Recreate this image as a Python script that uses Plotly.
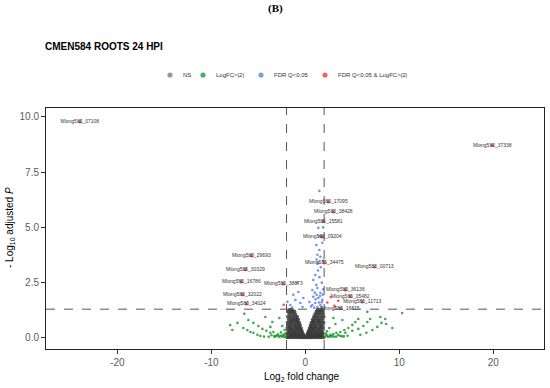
import math
import plotly.graph_objects as go

# ---------------- data ----------------
fc_cut = 2.0
p_cut = 0.05

ns_x = [-1.95,-1.72,-1.48,-1.27,-1.05,-0.83,-0.61,-0.42,-0.24,-0.08,0.09,0.26,0.44,0.63,0.85,1.04,1.26,1.49,1.71,1.93,
        -1.88,-1.6,-1.36,-1.14,-0.92,-0.7,-0.5,-0.31,-0.17,0.18,0.33,0.52,0.74,0.95,1.17,1.38,1.62,1.84,
        -1.96,-1.76,-1.53,-1.3,-1.08,-0.86,-0.64,-0.45,-0.27,0.25,0.41,0.6,0.8,1.02,1.24,1.45,1.68,1.9,
        -1.83,-1.62,-1.4,-1.18,-0.97,-0.76,-0.55,-0.36,0.34,0.5,0.69,0.9,1.11,1.33,1.57,1.8,
        -1.92,-1.7,-1.47,-1.25,-1.03,-0.82,-0.62,-0.45,0.44,0.6,0.79,1.0,1.22,1.44,1.66,1.89,
        -1.8,-1.57,-1.35,-1.13,-0.92,-0.72,-0.55,0.55,0.72,0.91,1.12,1.35,1.58,1.82,
        -1.9,-1.66,-1.43,-1.21,-1.0,-0.8,-0.64,0.65,0.83,1.03,1.25,1.48,1.72,1.95,
        -1.78,-1.55,-1.32,-1.1,-0.9,-0.75,0.77,0.95,1.16,1.39,1.62,1.86,
        -1.87,-1.63,-1.4,-1.18,-0.98,-0.86,0.9,1.08,1.29,1.52,1.76,1.97,
        -1.74,-1.5,-1.27,-1.06,1.02,1.21,1.43,1.67,1.9,
        -1.83,-1.58,-1.35,-1.15,1.18,1.37,1.6,1.84,
        -1.65,-1.42,1.3,1.55,1.78,
        -1.6,-1.15,-0.72,-0.38,-0.12,0.13,0.38,0.7,1.12,1.55,
        -1.5,-1.0,-0.55,-0.2,0.22,0.58,1.05,1.52,
        -1.7,-1.2,-0.68,-0.35,0.3,0.67,1.2,1.72,
        -1.45,-0.9,-0.5,0.48,0.88,1.42,
        -1.65,-1.05,-0.68,0.62,1.05,1.65,
        -1.45,-0.9,0.85,1.45]
ns_y = ([0.02]*20 + [0.1]*18 + [0.2]*18 + [0.32]*16 + [0.45]*16 + [0.58]*14 + [0.7]*14 + [0.83]*12
        + [0.96]*12 + [1.08]*9 + [1.2]*8 + [1.28]*5
        + [0.06]*10 + [0.15]*8 + [0.26]*8 + [0.38]*6 + [0.52]*6 + [0.76]*4)

fc_x = [-7.77,-7.23,-6.6,-6.17,-5.85,-5.53,-5.1,-4.79,-6.06,-5.53,-5.0,-4.57,-4.15,-3.72,-3.51,-3.72,-3.4,-2.98,-2.66,-2.34,
        -2.2,-2.45,-2.77,-4.26,-6.5,-2.1,-2.3,-2.5,-2.8,-3.1,-3.3,-2.15,-2.6,-4.4,-3.9,-8.0,
        2.34,2.66,2.98,3.3,3.72,4.15,4.57,5.0,5.32,5.64,3.5,4.26,5.0,5.64,6.17,6.6,6.9,5.85,6.5,7.13,
        7.66,8.1,8.5,2.98,3.2,2.55,3.94,6.6,8.6,10.3,9.26,7.98,2.1,2.2,2.45,2.8,3.1,3.9,2.3,2.7,
        -2.25,-2.55,-2.9,-3.25,-3.6,2.25,2.6,2.9,3.3,3.7,4.1,4.5]
fc_y = [0.36,0.68,0.45,0.36,0.27,0.23,0.14,0.09,0.81,0.68,0.54,0.41,0.32,0.23,0.72,0.5,0.27,0.14,0.09,0.14,
        0.36,0.54,0.9,0.95,1.09,0.05,0.04,0.06,0.05,0.08,0.05,0.2,0.25,0.06,0.05,0.58,
        0.09,0.14,0.18,0.23,0.27,0.36,0.45,0.59,0.72,0.86,0.14,0.23,0.32,0.41,0.54,0.72,0.86,0.14,0.23,0.36,
        0.5,0.68,0.86,0.9,0.63,0.45,0.81,1.18,0.63,1.13,0.45,0.95,0.05,0.2,0.04,0.06,0.05,0.07,0.3,0.1,
        0.12,0.1,0.15,0.1,0.12,0.12,0.08,0.1,0.06,0.1,0.07,0.1]

fdr_x = [1.28,1.38,1.6,1.49,1.81,1.7,1.06,0.85,1.17,0.74,1.28,1.6,0.85,1.38,1.81,1.06,0.74,1.6,0.43,-1.28,
         -1.06,-0.53,-1.6,-0.21,-0.74,-0.85,-1.91,1.49,1.38,1.17,1.5,1.75,1.9,1.2,1.45,1.7,1.0,1.3,0.95,1.55,
         1.85,1.35,1.65,1.9,1.5,1.9,1.2,-0.3,-1.4,1.75,1.1,0.6]
fdr_y = [3.76,3.39,3.67,3.98,4.3,4.57,2.85,2.62,2.4,2.17,2.26,2.04,1.86,1.81,1.72,1.58,1.49,1.49,1.63,1.95,
         1.72,1.58,1.49,1.81,2.08,2.49,1.63,6.65,4.98,4.2,2.75,2.5,2.2,1.95,1.6,1.4,2.05,1.4,1.37,1.9,
         1.95,3.05,3.2,3.5,4.6,5.0,3.55,1.4,1.38,1.62,1.75,1.42]

both_x = [2.34,2.7,3.1,3.5,-2.3]
both_y = [1.6,1.85,1.45,1.68,1.5]

gene_names = ["Mlong585_07108","Mlong585_37338","Mlong585_17095","Mlong585_38428","Mlong585_15581",
              "Mlong585_09204","Mlong585_34475","Mlong585_00713","Mlong585_29693","Mlong585_30329",
              "Mlong585_16786","Mlong585_38873","Mlong585_36136","Mlong585_05482","Mlong585_11713",
              "Mlong585_32022","Mlong585_34024","Mlong585_16815"]
gene_x = [-24.0,19.9,2.45,2.98,1.91,1.81,2.02,7.34,-5.74,-6.38,-6.81,-2.34,4.26,4.79,6.06,-6.7,-6.28,3.72]
gene_y = [9.77,8.69,6.15,5.7,5.25,4.57,3.39,3.21,3.71,3.08,2.53,2.44,2.17,1.86,1.63,1.95,1.54,1.33]

legend_labels = ["NS", "LogFC>|2|", "FDR Q<0.05", "FDR Q<0.05 & LogFC>|2|"]
colors = ["#3A3A3A", "#1E9A2E", "#4A72E0", "#EE2222"]
legend_colors = ["#9A9A9A", "#47B06A", "#7D9CE8", "#F26262"]

x_ticks = [-20, -10, 0, 10, 20]
y_ticks = [0, 2.5, 5, 7.5, 10]

# ---------------- figure ----------------
FONT = "Liberation Sans"
fig = go.Figure()

fig.add_trace(go.Scatter(x=ns_x, y=ns_y, mode="markers", showlegend=False,
                         marker=dict(color=colors[0], size=3.6, opacity=0.85, line=dict(width=0))))
fig.add_trace(go.Scatter(x=fc_x, y=fc_y, mode="markers", showlegend=False,
                         marker=dict(color=colors[1], size=2.6, opacity=0.85, line=dict(width=0))))
fig.add_trace(go.Scatter(x=fdr_x, y=fdr_y, mode="markers", showlegend=False,
                         marker=dict(color=colors[2], size=2.6, opacity=0.75, line=dict(width=0))))
fig.add_trace(go.Scatter(x=both_x, y=both_y, mode="markers", showlegend=False,
                         marker=dict(color=colors[3], size=2.6, opacity=0.8, line=dict(width=0))))
fig.add_trace(go.Scatter(x=gene_x, y=gene_y, mode="markers+text", text=gene_names,
                         textposition="middle center", showlegend=False,
                         textfont=dict(family=FONT, size=5, color="#333333"),
                         marker=dict(color=colors[3], size=3, opacity=0.8, line=dict(width=0))))

# threshold lines
line_style = dict(color="#555555", width=1, dash="dash")
for xv in (-fc_cut, fc_cut):
    fig.add_shape(type="line", xref="x", yref="paper", x0=xv, x1=xv, y0=0, y1=1, line=line_style)
fig.add_shape(type="line", xref="paper", yref="y", x0=0, x1=1,
              y0=-math.log10(p_cut), y1=-math.log10(p_cut), line=line_style)

# manual legend
leg_dot_px = [170, 203, 261, 325]
W, H = 550, 388
L, R, T, B = 46, 6, 108, 39
pw, ph = W - L - R, H - T - B
leg_y = (H - B - 75) / ph
for lab, col, px in zip(legend_labels, legend_colors, leg_dot_px):
    xp = (px - L) / pw
    fig.add_shape(type="circle", xref="paper", yref="paper", xsizemode="pixel", ysizemode="pixel",
                  xanchor=xp, yanchor=leg_y, x0=-2.6, x1=2.6, y0=-2.6, y1=2.6,
                  fillcolor=col, line=dict(width=0))
    fig.add_annotation(xref="paper", yref="paper", x=(px + 11 - L) / pw, y=leg_y, text=lab,
                       showarrow=False, xanchor="left", yanchor="middle",
                       font=dict(family=FONT, size=6, color="#333333"))

fig.add_annotation(xref="paper", yref="paper", x=(275 - L) / pw, y=(H - B - 9) / ph, text="<b>(B)</b>",
                   showarrow=False, xanchor="center", yanchor="middle",
                   font=dict(family="Liberation Serif", size=11, color="#000000"))
fig.add_annotation(xref="paper", yref="paper", x=(43 - L) / pw, y=(H - B - 46) / ph,
                   text="<b>CMEN584 ROOTS 24 HPI</b>", showarrow=False, xanchor="left", yanchor="middle",
                   font=dict(family=FONT, size=10, color="#000000"))
fig.add_annotation(xref="paper", yref="paper", x=(302 - L) / pw, y=(H - B - 377) / ph,
                   text="Log<sub>2</sub> fold change", showarrow=False, xanchor="center", yanchor="middle",
                   font=dict(family=FONT, size=10, color="#000000"))
fig.add_annotation(xref="paper", yref="paper", x=(10 - L) / pw, y=(H - B - 228) / ph,
                   text="- Log<sub>10</sub> adjusted <i>P</i>", showarrow=False, textangle=-90,
                   xanchor="center", yanchor="middle",
                   font=dict(family=FONT, size=10, color="#000000"))

axis_common = dict(showgrid=False, zeroline=False, showline=True, linecolor="#222222", linewidth=1,
                   mirror=True, ticks="outside", ticklen=4, tickcolor="#333333", tickwidth=1,
                   tickfont=dict(family=FONT, size=10, color="#5A5A5A"))
fig.update_xaxes(range=[-27.6, 25.4], tickvals=x_ticks, ticktext=[str(v) for v in x_ticks], **axis_common)
fig.update_yaxes(range=[-0.5, 10.4], tickvals=y_ticks, ticktext=[f"{v:.1f}" for v in y_ticks], **axis_common)

fig.update_layout(width=W, height=H, margin=dict(l=L, r=R, t=T, b=B, autoexpand=False),
                  plot_bgcolor="white", paper_bgcolor="white", showlegend=False,
                  font=dict(family=FONT))

fig.write_html("out.html", config={"displayModeBar": False},
               post_script="document.body.style.margin='0';document.body.style.padding='0';")
